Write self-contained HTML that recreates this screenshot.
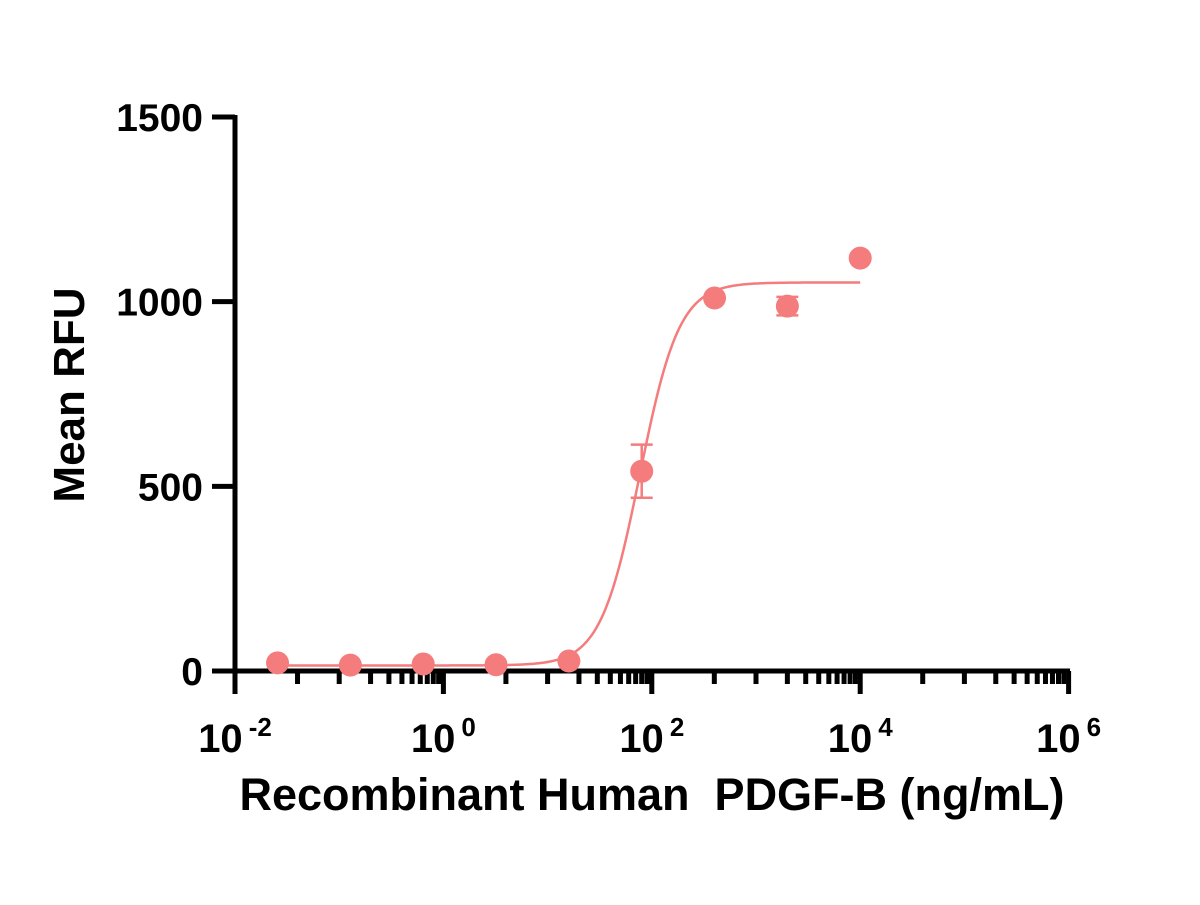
<!DOCTYPE html>
<html><head><meta charset="utf-8"><style>
body{margin:0;background:#fff}
svg text{font-family:"Liberation Sans",Arial,sans-serif;font-weight:bold;fill:#000}
</style></head><body>
<svg id="chart" width="1200" height="900" viewBox="0 0 1200 900" xmlns="http://www.w3.org/2000/svg">
<g id="axes"></g>
<g id="curve"></g>
<g id="points"></g>
<text x="652" y="810" font-size="45" text-anchor="middle" xml:space="preserve">Recombinant Human  PDGF-B (ng/mL)</text>
<text transform="translate(84,395) rotate(-90)" font-size="44" text-anchor="middle">Mean RFU</text>
</svg>
<script>
const concentrations=[0.0256,0.128,0.64,3.2,16,80,400,2000,10000];
const meanRFU=[22,16,19,17,27,541,1010,988,1118];
const errorSD=[0,0,0,0,0,72,0,25,0];
const fitParams=[15,1052,77,2.3]; // bottom, top, EC50, hill
const yTicks=[0,500,1000,1500];
const xMajorExp=[-2,0,2,4,6];

const NS="http://www.w3.org/2000/svg";
const color="#F47C7C";
const X0=235,PPD=104.2,Y0=671,PPU=554/1500;
const xs=v=>X0+(Math.log10(v)+2)*PPD;
const ys=v=>Y0-v*PPU;
function mk(tag,parent,attrs){const e=document.createElementNS(NS,tag);for(const k in attrs)e.setAttribute(k,attrs[k]);parent.appendChild(e);return e;}
const axes=document.getElementById('axes');
let l=mk('line',axes,{x1:X0,y1:Y0,x2:1070,y2:Y0,stroke:'#000','stroke-width':5});


l=mk('line',axes,{x1:X0,y1:Y0+2,x2:X0,y2:115,stroke:'#000','stroke-width':5});


yTicks.forEach(t=>{
  const tk=mk('line',axes,{x1:212,y1:ys(t),x2:X0,y2:ys(t),stroke:'#000','stroke-width':5});
  
  
  const tx=mk('text',axes,{x:203,y:ys(t)+14,'font-size':39,'text-anchor':'end'});
  tx.textContent=t;
  
  
});
xMajorExp.forEach((e,i)=>{
  const x=X0+(e+2)*PPD;
  const tk=mk('line',axes,{x1:x,y1:Y0,x2:x,y2:694,stroke:'#000','stroke-width':5});
  
  
  const tx=mk('text',axes,{x:x,y:752,'font-size':40,'text-anchor':'middle'});
  
  
  tx.appendChild(document.createTextNode('10'));
  const sp=mk('tspan',tx,{dy:-16,'font-size':26,dx:6});
  sp.textContent=String(e);
  if(i<xMajorExp.length-1){
    const offs=[0.6,1];for(let k=2;k<=9;k++)offs.push(1+Math.log10(k));
    offs.forEach(o=>{
      const mx=x+o*PPD;
      const m=mk('line',axes,{x1:mx,y1:Y0,x2:mx,y2:684,stroke:'#000','stroke-width':5});
      
      
    });
  }
});
const [b,t,ec,h]=fitParams;
let d='';
const lo=Math.log10(concentrations[0]),hi=Math.log10(concentrations[concentrations.length-1]);
for(let i=0;i<=300;i++){const lx=lo+(hi-lo)*i/300;const v=b+(t-b)/(1+Math.pow(10,(Math.log10(ec)-lx)*h));d+=(i?'L':'M')+xs(Math.pow(10,lx)).toFixed(2)+','+ys(v).toFixed(2);}
const cp=mk('path',document.getElementById('curve'),{d:d,fill:'none',stroke:color,'stroke-width':2.5});


const pts=document.getElementById('points');
concentrations.forEach((c,i)=>{
  const x=xs(c),y=ys(meanRFU[i]);
  if(errorSD[i]>0){
    const e1=ys(meanRFU[i]+errorSD[i]),e2=ys(meanRFU[i]-errorSD[i]);
    const eb=mk('path',pts,{d:`M${x},${e1}L${x},${e2}M${x-11},${e1}L${x+11},${e1}M${x-11},${e2}L${x+11},${e2}`,stroke:color,'stroke-width':2.5,fill:'none'});
    
    
  }
  const p=mk('circle',pts,{cx:x,cy:y,r:11.5,fill:color});
  
  
});
</script>
</body></html>
